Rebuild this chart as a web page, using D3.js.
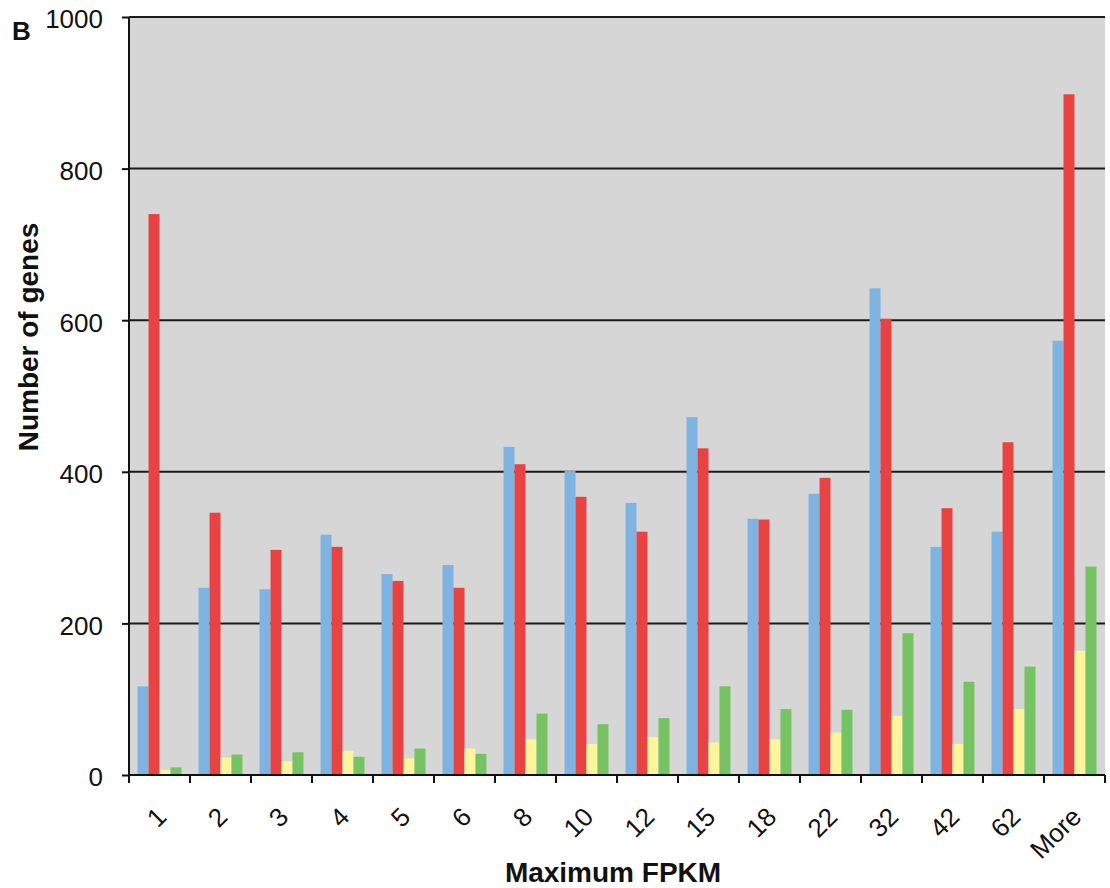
<!DOCTYPE html>
<html>
<head>
<meta charset="utf-8">
<script src="https://cdn.jsdelivr.net/npm/d3@7"></script>
<style>
  body { margin: 0; background: #fff; }
  text { font-family: "Liberation Sans", Arial, sans-serif; fill: #111; }
</style>
</head>
<body>
<div id="viz"></div>
<script>
var categories = ["1", "2", "3", "4", "5", "6", "8", "10", "12", "15", "18", "22", "32", "42", "62", "More"];
var seriesNames = ["blue", "red", "yellow", "green"];
var blueValues   = [117, 247, 245, 317, 265, 277, 433, 401, 359, 472, 338, 371, 642, 301, 321, 573];
var redValues    = [740, 346, 297, 301, 256, 247, 410, 367, 321, 431, 337, 392, 602, 352, 439, 898];
var yellowValues = [7, 23, 18, 32, 22, 35, 47, 41, 50, 43, 47, 56, 78, 41, 87, 164];
var greenValues  = [10, 27, 30, 24, 35, 28, 81, 67, 75, 117, 87, 86, 187, 123, 143, 275];
var yTicks = [0, 200, 400, 600, 800, 1000];

var colors = {blue: "#7fb4e2", red: "#e84342", yellow: "#fcf59b", green: "#76c363"};

var width = 1110,
    height = 888,
    margin = {top: 17, right: 5, bottom: 113, left: 129};
var w = width - margin.left - margin.right,
    h = height - margin.top - margin.bottom;

var rows = categories.map((c, i) => ({
  cat: c,
  blue: blueValues[i],
  red: redValues[i],
  yellow: yellowValues[i],
  green: greenValues[i]
}));

var svg = d3.select("#viz").append("svg")
  .attr("width", width)
  .attr("height", height);

var g = svg.append("g")
  .attr("transform", `translate(${margin.left},${margin.top})`);

var x0 = d3.scaleBand().domain(categories).range([0, w]).paddingInner(0.28).paddingOuter(0.14);
var x1 = d3.scaleBand().domain(seriesNames).range([0, x0.bandwidth()]);
var y = d3.scaleLinear().domain([0, 1000]).range([h, 0]);

// plot background
g.append("rect")
  .attr("width", w)
  .attr("height", h)
  .attr("fill", "#d6d6d6");

// gridlines
g.selectAll(".grid")
  .data(yTicks.filter(d => d > 0))
  .enter().append("line")
  .attr("class", "grid")
  .attr("x1", 0).attr("x2", w)
  .attr("y1", d => y(d)).attr("y2", d => y(d))
  .attr("stroke", "#1a1a1a")
  .attr("stroke-width", 2);

// bars
var groups = g.selectAll(".cat")
  .data(rows)
  .enter().append("g")
  .attr("class", "cat")
  .attr("transform", d => `translate(${x0(d.cat)},0)`);

groups.selectAll("rect")
  .data(d => seriesNames.map(s => ({key: s, value: d[s]})))
  .enter().append("rect")
  .attr("x", d => x1(d.key))
  .attr("y", d => y(d.value))
  .attr("width", x1.bandwidth())
  .attr("height", d => h - y(d.value))
  .attr("fill", d => colors[d.key]);

// Y axis
var yAxis = d3.axisLeft(y).tickValues(yTicks).tickFormat(d3.format("d"))
  .tickSize(7).tickPadding(19).tickSizeOuter(0);
var yg = g.append("g").call(yAxis);
yg.select(".domain").remove();
yg.selectAll(".tick line").attr("stroke", "#111").attr("stroke-width", 2);
yg.selectAll(".tick text")
  .attr("font-size", 26)
  .attr("dy", "0.42em");

g.append("line")
  .attr("x1", 0).attr("x2", 0)
  .attr("y1", 0).attr("y2", h + 8)
  .attr("stroke", "#111").attr("stroke-width", 2);

// X axis
g.append("line")
  .attr("x1", 0).attr("x2", w)
  .attr("y1", h).attr("y2", h)
  .attr("stroke", "#111").attr("stroke-width", 2);

var bounds = categories.map(c => x0(c) - x0.paddingOuter() * x0.step()).concat([w]);
g.selectAll(".xtick")
  .data(bounds)
  .enter().append("line")
  .attr("class", "xtick")
  .attr("x1", d => d).attr("x2", d => d)
  .attr("y1", h).attr("y2", h + 8)
  .attr("stroke", "#111").attr("stroke-width", 2);

g.selectAll(".xlabel")
  .data(categories)
  .enter().append("text")
  .attr("class", "xlabel")
  .attr("transform", d => `translate(${x0(d) + x0.bandwidth() / 2 + 2},${h + 37}) rotate(-45)`)
  .attr("text-anchor", "end")
  .attr("dy", "0.35em")
  .attr("font-size", 26)
  .text(d => d);

// axis titles
svg.append("text")
  .attr("x", margin.left + w / 2 - 4)
  .attr("y", 882)
  .attr("text-anchor", "middle")
  .attr("font-size", 28)
  .attr("font-weight", "bold")
  .text("Maximum FPKM");

svg.append("text")
  .attr("transform", "translate(38,337) rotate(-90)")
  .attr("text-anchor", "middle")
  .attr("font-size", 28)
  .attr("font-weight", "bold")
  .text("Number of genes");

svg.append("text")
  .attr("x", 12)
  .attr("y", 40)
  .attr("font-size", 26)
  .attr("font-weight", "bold")
  .text("B");
</script>
</body>
</html>
